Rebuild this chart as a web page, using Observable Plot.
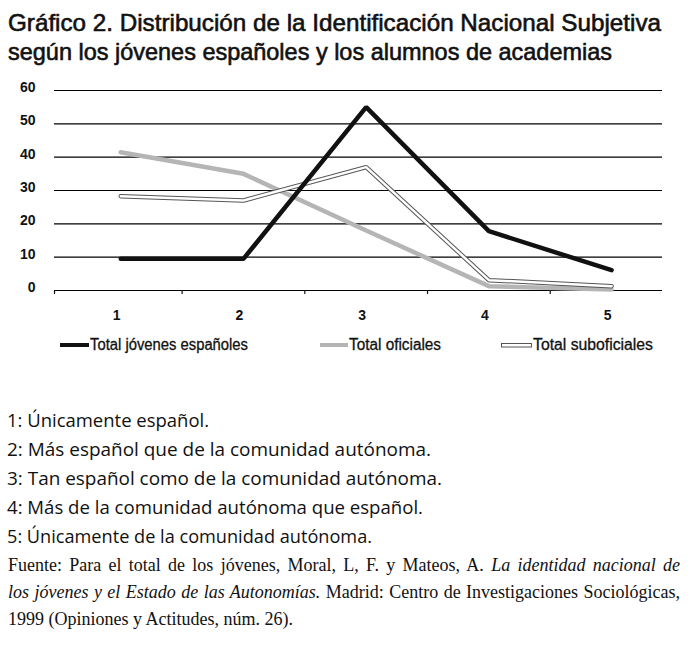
<!DOCTYPE html>
<html>
<head>
<meta charset="utf-8">
<script src="https://cdn.jsdelivr.net/npm/d3@7"></script>
<script src="https://cdn.jsdelivr.net/npm/@observablehq/plot@0.6"></script>
<style>
  body { margin: 0; background: #fff; }
  #page { position: relative; width: 696px; height: 668px; background: #fff; overflow: hidden; }
  .abs { position: absolute; }
  .src { font-family: "Liberation Serif", "DejaVu Serif", serif; font-size: 18px; color: #111; left: 8px; width: 672px; white-space: nowrap; }
  .just { text-align: justify; text-align-last: justify; white-space: normal; }
</style>
</head>
<body>
<div id="page">
  <svg class="abs" style="left:0;top:0" width="696" height="75">
    <text x="8" y="31" font-family="'Liberation Sans',sans-serif" font-size="24" fill="#111" stroke="#111" stroke-width="0.6" textLength="653" lengthAdjust="spacingAndGlyphs">Gráfico 2. Distribución de la Identificación Nacional Subjetiva</text>
    <text x="8" y="60" font-family="'Liberation Sans',sans-serif" font-size="24" fill="#111" stroke="#111" stroke-width="0.6" textLength="604" lengthAdjust="spacingAndGlyphs">según los jóvenes españoles y los alumnos de academias</text>
  </svg>
  <div id="chart" class="abs" style="left:0;top:78px"></div>
  <svg id="legend" class="abs" style="left:0;top:330px" width="696" height="30"></svg>
  <svg id="notes" class="abs" style="left:0;top:400px" width="696" height="160"></svg>
  <div class="abs src just" style="top:555px">Fuente: Para el total de los jóvenes, Moral, L, F. y Mateos, A. <i>La identidad nacional de</i></div>
  <div class="abs src just" style="top:582px"><i>los jóvenes y el Estado de las Autonomías.</i> Madrid: Centro de Investigaciones Sociológicas,</div>
  <div class="abs src" style="top:609px">1999 (Opiniones y Actitudes, núm. 26).</div>
</div>
<script>
const categories = [1, 2, 3, 4, 5];
const jovenes = [9.5, 9.5, 55, 17.8, 6.1];
const oficiales = [41.5, 35, 18, 1.3, 0.3];
const suboficiales = [28.3, 27, 37, 3.1, 1.3];
const yTicks = [0, 10, 20, 30, 40, 50, 60];
const separatorTicks = [0.46, 1.5, 2.5, 3.5, 4.5];
const seriesNames = ["Total jóvenes españoles", "Total oficiales", "Total suboficiales"];
const noteLines = [
  "1: Únicamente español.",
  "2: Más español que de la comunidad autónoma.",
  "3: Tan español como de la comunidad autónoma.",
  "4: Más de la comunidad autónoma que español.",
  "5: Únicamente de la comunidad autónoma."
];

const rows = (vals) => categories.map((c, i) => ({cat: c, value: vals[i]}));

const chart = Plot.plot({
  width: 696,
  height: 250,
  marginTop: 12,
  marginBottom: 38,
  marginLeft: 54,
  marginRight: 34,
  style: {fontFamily: "'Liberation Sans', Arial, sans-serif", background: "transparent", color: "#111"},
  x: {domain: [0.46, 5.415]},
  y: {domain: [0, 60]},
  marks: [
    Plot.ruleY(yTicks, {stroke: "#000", strokeWidth: 1.2}),
    Plot.axisY({ticks: yTicks, tickSize: 0, tickPadding: 19, dy: -3, fontSize: 14, fontWeight: "bold", label: null}),
    Plot.axisX({ticks: separatorTicks, tickSize: 4, tickFormat: () => "", label: null, strokeWidth: 1.2}),
    Plot.axisX({ticks: categories, tickSize: 0, tickPadding: 20, dx: -4, fontSize: 14, fontWeight: "bold", label: null, tickFormat: d => String(d)}),
    Plot.line(rows(oficiales), {x: "cat", y: "value", stroke: "#b5b5b5", strokeWidth: 4.5, strokeLinejoin: "miter"}),
    Plot.line(rows(suboficiales), {x: "cat", y: "value", stroke: "#555", strokeWidth: 4.5, strokeLinejoin: "miter"}),
    Plot.line(rows(suboficiales), {x: "cat", y: "value", stroke: "#fff", strokeWidth: 2.5, strokeLinejoin: "miter"}),
    Plot.line(rows(jovenes), {x: "cat", y: "value", stroke: "#111", strokeWidth: 4.5, strokeLinejoin: "miter"})
  ]
});
document.getElementById("chart").appendChild(chart);

// Legend
const ns = "http://www.w3.org/2000/svg";
const leg = document.getElementById("legend");
const legendItems = [
  {name: seriesNames[0], sx: 60, sw: 29, tx: 90, tl: 158, kind: "black"},
  {name: seriesNames[1], sx: 320, sw: 28, tx: 349, tl: 92, kind: "gray"},
  {name: seriesNames[2], sx: 501, sw: 31, tx: 533, tl: 120, kind: "double"}
];
function el(tag, attrs, parent) {
  const e = document.createElementNS(ns, tag);
  for (const k in attrs) e.setAttribute(k, attrs[k]);
  parent.appendChild(e);
  return e;
}
legendItems.forEach(it => {
  const y = 15;
  if (it.kind === "black") {
    el("rect", {x: it.sx, y: y - 2, width: it.sw, height: 4, fill: "#111"}, leg);
  } else if (it.kind === "gray") {
    el("rect", {x: it.sx, y: y - 2, width: it.sw, height: 4, fill: "#b5b5b5"}, leg);
  } else {
    el("rect", {x: it.sx + 0.5, y: y - 1.5, width: it.sw - 1, height: 3.5, fill: "#fff", stroke: "#555", "stroke-width": 1}, leg);
  }
  const t = el("text", {x: it.tx, y: y + 5, "font-family": "'Liberation Sans',sans-serif", "font-size": 16, fill: "#111", stroke: "#111", "stroke-width": 0.3, textLength: it.tl, lengthAdjust: "spacingAndGlyphs"}, leg);
  t.textContent = it.name;
});

// Notes
const notesSvg = document.getElementById("notes");
const noteEnds = [209, 431, 442, 423, 372];
noteLines.forEach((line, i) => {
  const t = el("text", {x: 7, y: 27 + i * 29, "font-family": "'Open Sans', Lato, sans-serif", "font-size": 18, fill: "#111", textLength: noteEnds[i] - 7, lengthAdjust: "spacingAndGlyphs"}, notesSvg);
  t.textContent = line;
});
</script>
</body>
</html>
